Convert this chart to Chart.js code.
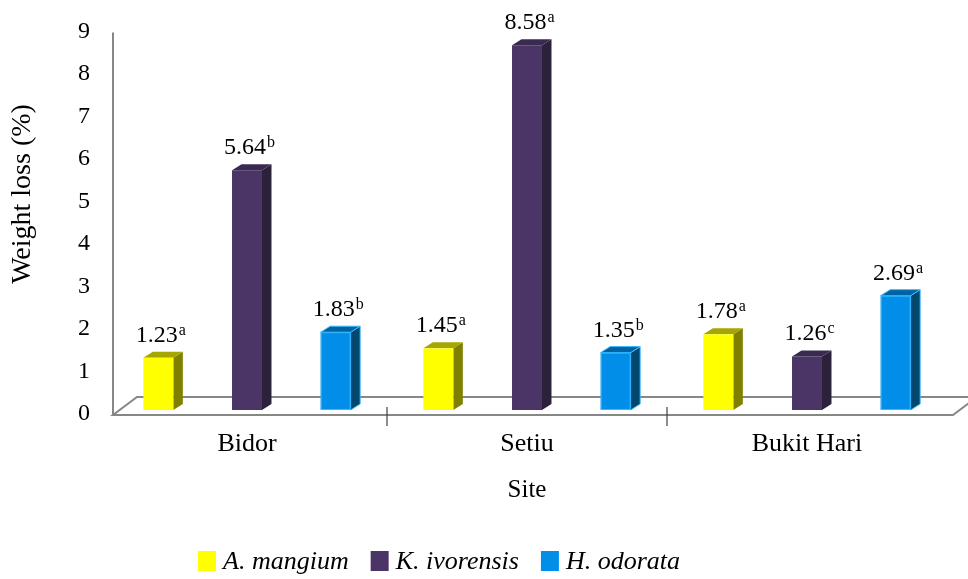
<!DOCTYPE html>
<html>
<head>
<meta charset="utf-8">
<script src="https://cdn.jsdelivr.net/npm/chart.js@4/dist/chart.umd.min.js"></script>
<style>
  html, body { margin: 0; padding: 0; background: #fff; }
  #wrap { width: 968px; height: 579px; }
</style>
</head>
<body>
<div id="wrap"><canvas id="chart" width="968" height="579"></canvas></div>
<script>
// sites and species
const sites = ["Bidor", "Setiu", "Bukit Hari"];
const species = ["A. mangium", "K. ivorensis", "H. odorata"];

// weight loss (%) per site
const aMangium = [1.23, 1.45, 1.78];
const kIvorensis = [5.64, 8.58, 1.26];
const hOdorata = [1.83, 1.35, 2.69];

// significance letters shown next to each value
const aMangiumLetters = ["a", "a", "a"];
const kIvorensisLetters = ["b", "a", "c"];
const hOdorataLetters = ["b", "b", "a"];

const yMin = 0;
const yMax = 9;
const yTitle = "Weight loss (%)";

const FONT = "'Liberation Serif', 'Times New Roman', serif";
const AXIS_GREY = "#878787";

// front / side / top shades of each bar colour
const shades = [
    { front: "#ffff00", side: "#808000", top: "#a6a600", edge: null },
    { front: "#4a3566", side: "#2b213a", top: "#3a2a52", edge: null },
    { front: "#008ee8", side: "#00486f", top: "#0064a3", edge: "#3cb8ff" }
];

const DEPTH_X = 9.5;   // bar depth
const DEPTH_Y = 6;
const LIFT = 4;        // bars stand a bit behind the front edge of the floor
const FLOOR_X = 24;    // floor depth
const FLOOR_Y = 18;
const WALL_SHIFT = 6;  // value axis sits a little right of the first category

// -------------------------------
// floor, value axis line, dividers, y title
// -------------------------------
const floorPlugin = {
    id: "floor",
    beforeDatasetsDraw(chart) {
        const { ctx, chartArea } = chart;
        const x = chart.scales.x;
        const left = chartArea.left + WALL_SHIFT;
        const right = chartArea.right + 6;
        const yb = chartArea.bottom + 1;

        ctx.save();
        ctx.strokeStyle = AXIS_GREY;
        ctx.lineWidth = 2;
        ctx.beginPath();
        ctx.moveTo(left, yb);
        ctx.lineTo(right, yb);
        ctx.lineTo(right + FLOOR_X, yb - FLOOR_Y);
        ctx.lineTo(left + FLOOR_X, yb - FLOOR_Y);
        ctx.closePath();
        ctx.stroke();

        // value axis
        ctx.beginPath();
        ctx.moveTo(left, chartArea.top + 1);
        ctx.lineTo(left, yb);
        ctx.stroke();

        // dividers between sites
        ctx.strokeStyle = "#404040";
        ctx.lineWidth = 1.2;
        for (let i = 0; i < sites.length - 1; i++) {
            const xp = (x.getPixelForValue(i) + x.getPixelForValue(i + 1)) / 2;
            ctx.beginPath();
            ctx.moveTo(xp, yb - 8);
            ctx.lineTo(xp, yb + 11);
            ctx.stroke();
        }

        // y title
        const cy = chartArea.top + (chartArea.bottom - chartArea.top) * 0.425;
        ctx.translate(23, cy);
        ctx.rotate(-Math.PI / 2);
        ctx.font = "28px " + FONT;
        ctx.fillStyle = "#000";
        ctx.textAlign = "center";
        ctx.textBaseline = "middle";
        ctx.fillText(yTitle, 0, 0);
        ctx.restore();
    }
};

// -------------------------------
// 3D bars + value labels
// -------------------------------
const bars3dPlugin = {
    id: "bars3d",
    beforeDatasetDraw() {
        return false;
    },
    afterDatasetsDraw(chart) {
        const { ctx } = chart;
        ctx.save();
        chart.data.datasets.forEach((ds, di) => {
            const meta = chart.getDatasetMeta(di);
            const c = shades[di];
            meta.data.forEach((bar, i) => {
                const { x, y, base, width } = bar.getProps(["x", "y", "base", "width"], true);
                const l = x - width / 2;
                const r = x + width / 2;
                const t = y - LIFT;
                const b = base - LIFT;

                // side
                ctx.fillStyle = c.side;
                ctx.beginPath();
                ctx.moveTo(r, t);
                ctx.lineTo(r + DEPTH_X, t - DEPTH_Y);
                ctx.lineTo(r + DEPTH_X, b - DEPTH_Y);
                ctx.lineTo(r, b);
                ctx.closePath();
                ctx.fill();
                if (c.edge) { ctx.strokeStyle = c.edge; ctx.lineWidth = 1; ctx.stroke(); }

                // top
                ctx.fillStyle = c.top;
                ctx.beginPath();
                ctx.moveTo(l, t);
                ctx.lineTo(l + DEPTH_X, t - DEPTH_Y);
                ctx.lineTo(r + DEPTH_X, t - DEPTH_Y);
                ctx.lineTo(r, t);
                ctx.closePath();
                ctx.fill();
                if (c.edge) { ctx.strokeStyle = c.edge; ctx.lineWidth = 1; ctx.stroke(); }

                // front
                ctx.fillStyle = c.front;
                ctx.fillRect(l, t, width, b - t);
                if (c.edge) {
                    ctx.strokeStyle = c.edge;
                    ctx.lineWidth = 1;
                    ctx.strokeRect(l + 0.5, t + 0.5, width - 1, b - t - 1);
                }

                // label: value + superscript letter
                const num = ds.data[i].toFixed(2);
                const sup = ds.letters[i];
                ctx.font = "24px " + FONT;
                const wNum = ctx.measureText(num).width;
                ctx.font = "16px " + FONT;
                const wSup = ctx.measureText(sup).width;
                const start = x + 2 - (wNum + wSup) / 2;
                const baseLine = t - 16;
                ctx.fillStyle = "#000";
                ctx.textBaseline = "alphabetic";
                ctx.textAlign = "left";
                ctx.font = "24px " + FONT;
                ctx.fillText(num, start, baseLine);
                ctx.font = "16px " + FONT;
                ctx.fillText(sup, start + wNum + 1, baseLine - 7);
            });
        });
        ctx.restore();
    }
};

// -------------------------------
// legend
// -------------------------------
const legendPlugin = {
    id: "speciesLegend",
    afterDraw(chart) {
        const { ctx } = chart;
        const bw = 18;
        const bh = 20;
        const cy = 561;
        let cx = 198;
        ctx.save();
        ctx.font = "italic 26px " + FONT;
        ctx.textBaseline = "middle";
        ctx.textAlign = "left";
        chart.data.datasets.forEach(ds => {
            ctx.fillStyle = ds.backgroundColor;
            ctx.fillRect(cx, cy - bh / 2, bw, bh);
            ctx.fillStyle = "#000";
            ctx.fillText(ds.label, cx + bw + 7, cy + 1);
            cx += bw + 7 + ctx.measureText(ds.label).width + 22;
        });
        ctx.restore();
    }
};

const datasets = [aMangium, kIvorensis, hOdorata].map((vals, i) => ({
    label: species[i],
    data: vals,
    letters: [aMangiumLetters, kIvorensisLetters, hOdorataLetters][i],
    backgroundColor: shades[i].front,
    categoryPercentage: 0.95,
    barPercentage: 0.338
}));

new Chart(document.getElementById("chart"), {
    type: "bar",
    data: { labels: sites, datasets },
    options: {
        responsive: false,
        animation: false,
        layout: { padding: { top: 30, right: 21, bottom: 74, left: 0 } },
        plugins: {
            legend: { display: false },
            tooltip: { enabled: false }
        },
        scales: {
            x: {
                grid: { display: false, drawTicks: false },
                border: { display: false },
                ticks: { color: "#000", font: { family: FONT, size: 26 }, padding: 15 },
                title: {
                    display: true,
                    text: "Site",
                    color: "#000",
                    font: { family: FONT, size: 25 },
                    padding: { top: 0, bottom: 0 }
                },
                afterFit: s => { s.height = 91; }
            },
            y: {
                min: yMin,
                max: yMax,
                grid: { display: false, drawTicks: false },
                border: { display: false },
                ticks: { stepSize: 1, color: "#000", font: { family: FONT, size: 24 }, padding: 17 },
                afterFit: s => { s.width = 107; }
            }
        }
    },
    plugins: [floorPlugin, bars3dPlugin, legendPlugin]
});
</script>
</body>
</html>
